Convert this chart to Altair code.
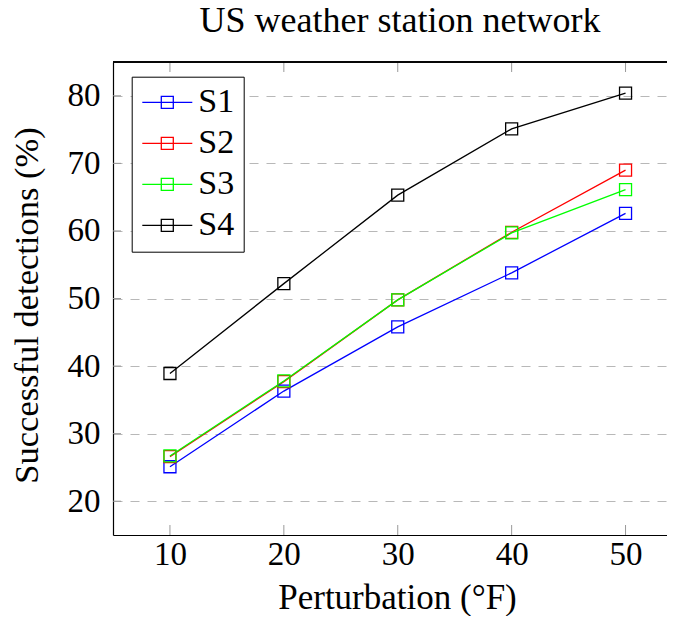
import altair as alt
import pandas as pd

perturbation = [10, 20, 30, 40, 50]
series_names = ["S1", "S2", "S3", "S4"]
s1 = [25.1, 36.3, 45.8, 53.8, 62.6]
s2 = [26.6, 37.7, 49.8, 59.8, 69.0]
s3 = [26.7, 37.8, 49.8, 59.7, 66.1]
s4 = [38.9, 52.2, 65.3, 75.1, 80.4]
colors = ["#0000ff", "#ff0000", "#00ff00", "#000000"]
x_ticks = [10, 20, 30, 40, 50]
y_ticks = [20, 30, 40, 50, 60, 70, 80]

rows = []
for name, vals in zip(series_names, [s1, s2, s3, s4]):
    for xv, yv in zip(perturbation, vals):
        rows.append({"x": xv, "y": yv, "series": name})
df = pd.DataFrame(rows)

W, H = 554, 473
FONT = "Liberation Serif"
xscale = alt.Scale(domain=[5, 53.64], nice=False, zero=False)
yscale = alt.Scale(domain=[15, 85], nice=False, zero=False)

x_axis = alt.Axis(values=x_ticks, title="Perturbation (°F)", grid=False, ticks=False,
                  labelPadding=3, titleX=284, titleY=73.5, titleBaseline="alphabetic",
                  titleFontSize=35)
y_axis = alt.Axis(values=y_ticks, title="Successful detections (%)", grid=True, ticks=False,
                  labelPadding=13, titleX=-76, titleY=243, titleAngle=-90,
                  titleBaseline="alphabetic", titleFontSize=34.5)

legend_path = "M-2,0H2M-0.48,-0.48H0.48V0.48H-0.48Z"

lines = alt.Chart(df).mark_line(
    strokeWidth=1.3,
    point=alt.OverlayMarkDef(shape="square", filled=False, size=144, strokeWidth=1.3),
).encode(
    x=alt.X("x:Q", scale=xscale, axis=x_axis),
    y=alt.Y("y:Q", scale=yscale, axis=y_axis),
    color=alt.Color("series:N", scale=alt.Scale(domain=series_names, range=colors),
                    legend=alt.Legend(
                        title=None, orient="none", legendX=18.7, legendY=14.7,
                        symbolType=legend_path, symbolSize=625, symbolStrokeWidth=1.3,
                        symbolFillColor="transparent", symbolOffset=10,
                        labelFont=FONT, labelFontSize=34, labelColor="black",
                        labelExpr="datum.label + '\u00a0\u00a0'",
                        labelOffset=14, rowPadding=7, padding=8.6,
                        strokeColor="black", fillColor="white", cornerRadius=0)),
)

xt = pd.DataFrame({"x": x_ticks})
yt = pd.DataFrame({"y": y_ticks})
bottom_ticks = alt.Chart(xt).mark_rule(color="#999999", strokeWidth=1).encode(
    x=alt.X("x:Q", scale=xscale, axis=x_axis), y=alt.value(H), y2=alt.value(H - 10))
top_ticks = alt.Chart(xt).mark_rule(color="#999999", strokeWidth=1).encode(
    x=alt.X("x:Q", scale=xscale, axis=x_axis), y=alt.value(0), y2=alt.value(10))
left_ticks = alt.Chart(yt).mark_rule(color="#999999", strokeWidth=1).encode(
    y=alt.Y("y:Q", scale=yscale, axis=y_axis), x=alt.value(0), x2=alt.value(8))
top_frame = alt.Chart(xt).mark_rule(color="black", strokeWidth=1.2).encode(
    x=alt.value(0), x2=alt.value(W), y=alt.value(0))

chart = alt.layer(bottom_ticks, top_ticks, left_ticks, top_frame, lines).properties(
    width=W, height=H,
    title=alt.TitleParams("US weather station network", font=FONT, fontSize=36,
                          fontWeight="normal", anchor="middle", frame="group",
                          offset=21, dx=10, color="black"),
    autosize=alt.AutoSizeParams(type="none"),
    padding={"left": 105, "top": 54, "right": 0, "bottom": 81},
).configure_view(strokeWidth=0).configure_axis(
    labelFont=FONT, labelFontSize=33, labelColor="black",
    titleFont=FONT, titleFontWeight="normal", titleColor="black",
    domainColor="black", domainWidth=1.2,
    gridColor="#b8b8b8", gridDash=[9, 8], gridWidth=1.2,
)

chart.save("out.html", embed_options={"renderer": "svg", "actions": False})
